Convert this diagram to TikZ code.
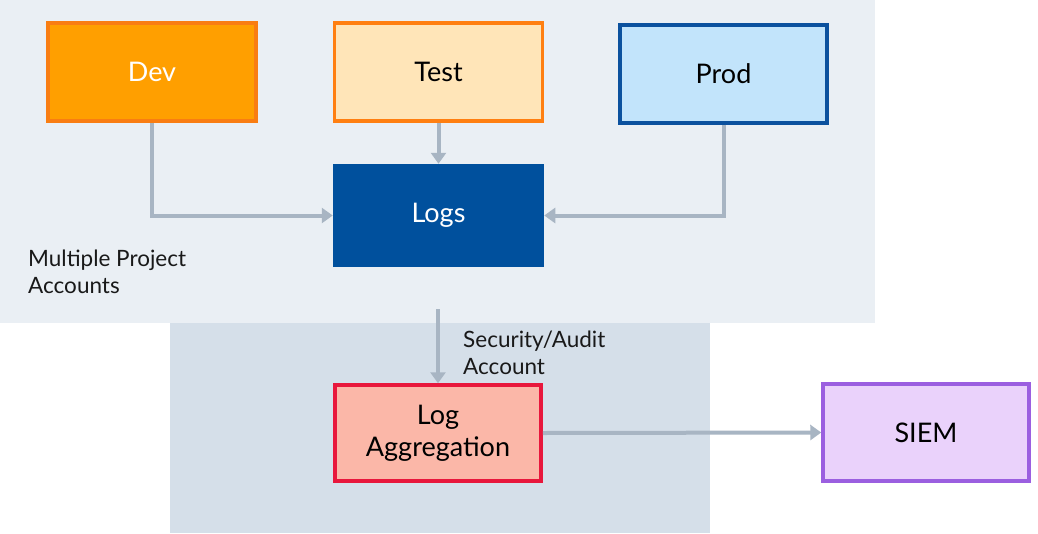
\documentclass[tikz,border=0pt]{standalone}
\usepackage{fontspec}
\setmainfont{Lato}
\usetikzlibrary{arrows.meta}
\definecolor{panelA}{HTML}{EAEFF4}
\definecolor{panelB}{HTML}{D5DFE9}
\definecolor{devfill}{HTML}{FF9F00}
\definecolor{devline}{HTML}{F97D12}
\definecolor{testfill}{HTML}{FFE5B8}
\definecolor{testline}{HTML}{FF7F11}
\definecolor{prodfill}{HTML}{C2E4FB}
\definecolor{prodline}{HTML}{0B519E}
\definecolor{logsfill}{HTML}{00509D}
\definecolor{aggfill}{HTML}{FBB7A8}
\definecolor{aggline}{HTML}{E8173C}
\definecolor{siemfill}{HTML}{EAD2FB}
\definecolor{siemline}{HTML}{9B5FE0}
\definecolor{arrowgray}{HTML}{A8B5C3}
\tikzset{
  box/.style={rectangle, line width=3.5pt, inner sep=0pt, font=\fontsize{27}{32}\selectfont, align=center},
  conn/.style={draw=arrowgray, line width=4pt, -{Triangle[length=11pt,width=15pt]}},
  note/.style={font=\fontsize{22.5}{27}\selectfont, align=left, inner sep=0pt, text=black!90}
}
\begin{document}
\begin{tikzpicture}[x=1pt,y=-1pt]
\useasboundingbox (0,0) rectangle (1038,533);
\fill[white] (0,0) rectangle (1038,533);
\fill[panelA] (0,0) rectangle (875,323);
\fill[panelB] (170,323) rectangle (710,533);

\node[box, fill=devfill, draw=devline, text=white, minimum width=208pt, minimum height=98pt] (dev) at (152,72) {Dev};
\node[box, fill=testfill, draw=testline, text=black, minimum width=208pt, minimum height=98pt] (test) at (438.5,72) {Test};
\node[box, fill=prodfill, draw=prodline, text=black, minimum width=207pt, minimum height=98pt] (prod) at (723.5,74) {Prod};
\node[box, fill=logsfill, draw=logsfill, text=white, minimum width=208pt, minimum height=100pt] (logs) at (438.5,215.5) {Logs};
\node[box, fill=aggfill, draw=aggline, text=black, minimum width=206pt, minimum height=96pt] (agg) at (438,433) {Log\\Aggregation};
\node[box, fill=siemfill, draw=siemline, text=black, minimum width=206pt, minimum height=97pt] (siem) at (926,432.5) {SIEM};

\node[note, anchor=north west] (mpa) at (28,250) {Multiple Project\\Accounts};
\node[note, anchor=north west] (sec) at (463,331) {Security/Audit\\Account};

\coordinate (src) at (438,309);

\draw[conn] (dev.south) |- (logs.west);
\draw[conn] (prod.south) |- (logs.east);
\draw[conn] (test.south) -- (logs.north);
\draw[conn] (src) -- (agg.north);
\draw[conn] (agg.east) -- (siem.west);
\end{tikzpicture}
\end{document}
